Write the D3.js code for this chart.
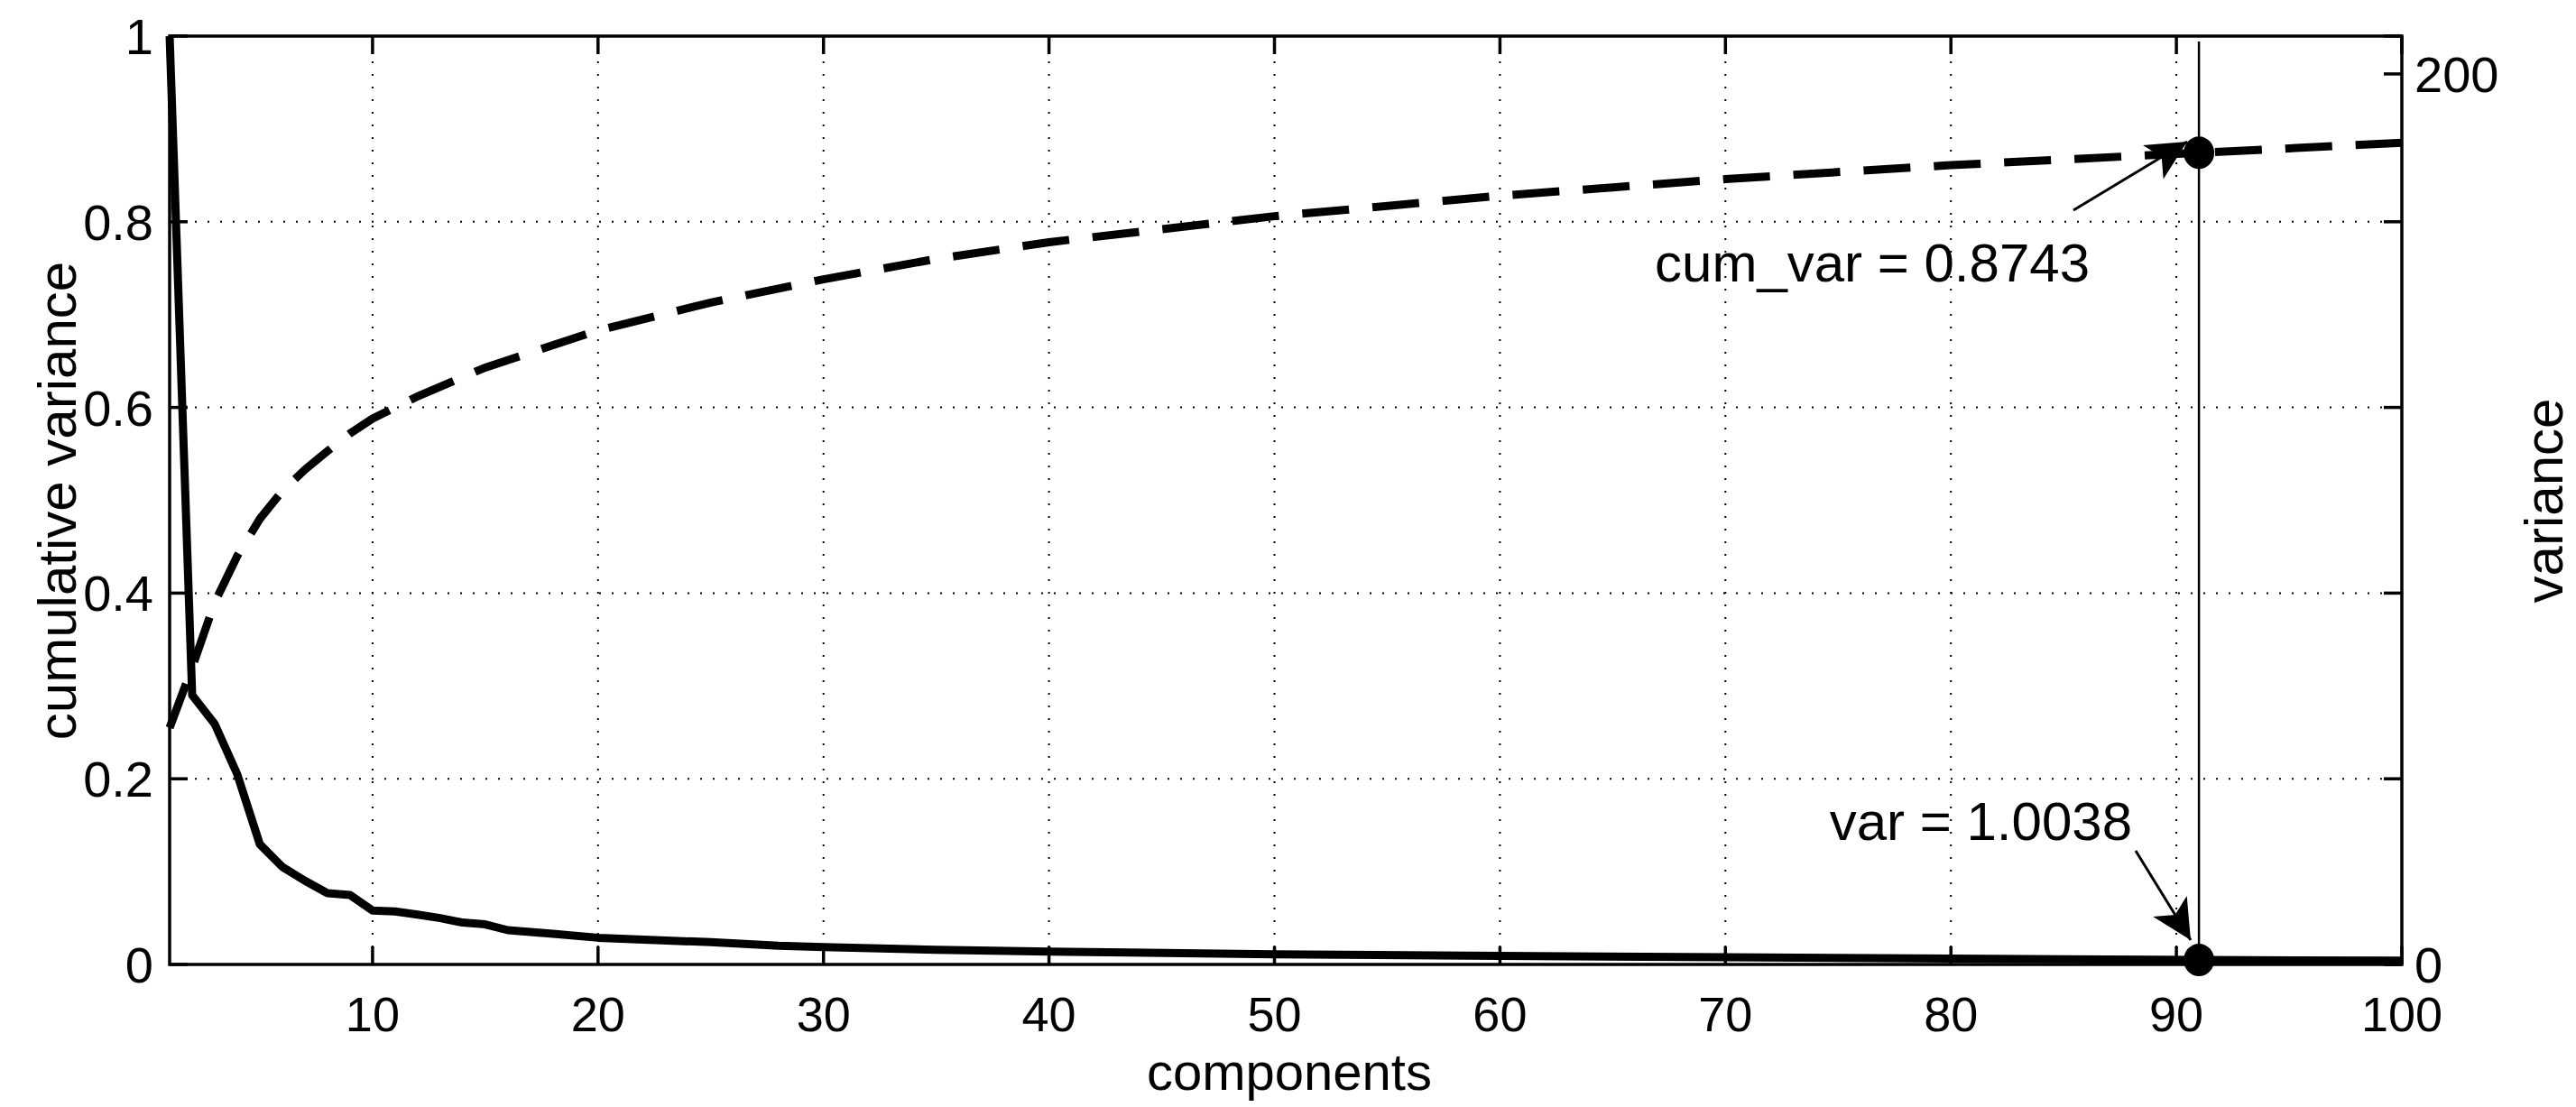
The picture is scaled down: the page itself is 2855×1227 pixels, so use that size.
<!DOCTYPE html>
<html>
<head>
<meta charset="utf-8">
<script src="https://cdn.jsdelivr.net/npm/d3@7"></script>
<style>
  body { margin: 0; background: #fff; }
  text { font-family: "Liberation Sans", Arial, sans-serif; fill: #000; }
</style>
</head>
<body>
<div id="chart"></div>
<script>
// PCA explained variance: cumulative (left axis) and per component (right axis)
const cumX = [1, 2, 3, 4, 5, 6, 7, 8, 9, 10, 12, 15, 20, 25, 30, 35, 40, 50, 60, 70, 80, 91, 100];
const cumY = [0.255, 0.32, 0.39, 0.44, 0.48, 0.51, 0.533, 0.553, 0.572, 0.588, 0.612, 0.643, 0.683, 0.713,
  0.738, 0.76, 0.778, 0.806, 0.828, 0.846, 0.861, 0.8743, 0.885];

const varX = [1, 2, 3, 4, 5, 6, 7, 8, 9, 10, 11, 12, 13, 14, 15, 16, 18, 20, 25, 28, 30, 35, 40, 50, 60, 70, 80, 91, 100];
const varY = [208.5, 60.5, 54, 42.7, 27, 21.9, 18.8, 16, 15.6, 12.1, 11.9, 11.2, 10.4, 9.4, 9, 7.7, 6.9, 6.0,
  5.0, 4.2, 3.9, 3.3, 2.9, 2.3, 1.9, 1.6, 1.3, 1.0038, 0.85];

const xTicks = [10, 20, 30, 40, 50, 60, 70, 80, 90, 100];
const yTicks = [0, 0.2, 0.4, 0.6, 0.8, 1];
const y2Ticks = [0, 200];

const markX = 91;
const markCum = 0.8743;
const markVar = 1.0038;

const W = 2855, H = 1227;
const L = 188, R = 2662, T = 40, B = 1069;

const svg = d3.select("#chart").append("svg")
  .attr("width", W).attr("height", H);

const x = d3.scaleLinear().domain([1, 100]).range([L, R]);
const y = d3.scaleLinear().domain([0, 1]).range([B, T]);
const y2 = d3.scaleLinear().domain([0, 208.5]).range([B, T]);

// grid
const grid = svg.append("g").attr("stroke", "#000").attr("stroke-width", 2)
  .attr("stroke-dasharray", "2,12");
xTicks.filter(d => d < 100).forEach(d => {
  grid.append("line").attr("x1", x(d)).attr("x2", x(d)).attr("y1", T).attr("y2", B);
});
yTicks.filter(d => d > 0 && d < 1).forEach(d => {
  grid.append("line").attr("x1", L).attr("x2", R).attr("y1", y(d)).attr("y2", y(d));
});

// ticks (inward, MATLAB style)
const tk = 20;
const ticks = svg.append("g").attr("stroke", "#000").attr("stroke-width", 3.5);
xTicks.forEach(d => {
  ticks.append("line").attr("x1", x(d)).attr("x2", x(d)).attr("y1", B).attr("y2", B - tk);
  ticks.append("line").attr("x1", x(d)).attr("x2", x(d)).attr("y1", T).attr("y2", T + tk);
});
yTicks.forEach(d => {
  ticks.append("line").attr("x1", L).attr("x2", L + tk).attr("y1", y(d)).attr("y2", y(d));
  ticks.append("line").attr("x1", R).attr("x2", R - tk).attr("y1", y(d)).attr("y2", y(d));
});
y2Ticks.forEach(d => {
  ticks.append("line").attr("x1", R).attr("x2", R - tk).attr("y1", y2(d)).attr("y2", y2(d));
});

// tick labels
svg.append("g").selectAll("text").data(xTicks).enter().append("text")
  .attr("x", d => x(d)).attr("y", 1143).attr("text-anchor", "middle")
  .style("font-size", "54px").text(d => d);
svg.append("g").selectAll("text").data(yTicks).enter().append("text")
  .attr("x", 170).attr("y", d => y(d) + 20).attr("text-anchor", "end")
  .style("font-size", "56px").text(d => d);
svg.append("g").selectAll("text").data(y2Ticks).enter().append("text")
  .attr("x", 2676).attr("y", d => y2(d) + 20).attr("text-anchor", "start")
  .style("font-size", "56px").text(d => d);

// axis labels
svg.append("text").attr("x", 1429).attr("y", 1208).attr("text-anchor", "middle")
  .style("font-size", "58px").text("components");
svg.append("text").attr("transform", `translate(84,555) rotate(-90)`).attr("text-anchor", "middle")
  .style("font-size", "60px").text("cumulative variance");
svg.append("text").attr("transform", `translate(2840,555) rotate(-90)`).attr("text-anchor", "middle")
  .style("font-size", "60px").text("variance");

// lines
svg.append("path").datum(cumX.map((d, i) => [d, cumY[i]]))
  .attr("fill", "none").attr("stroke", "#000").attr("stroke-width", 9)
  .attr("stroke-dasharray", "52,26")
  .attr("d", d3.line().x(d => x(d[0])).y(d => y(d[1])));

svg.append("path").datum(varX.map((d, i) => [d, varY[i]]))
  .attr("fill", "none").attr("stroke", "#000").attr("stroke-width", 9)
  .attr("stroke-linejoin", "round")
  .attr("d", d3.line().x(d => x(d[0])).y(d => y2(d[1])));

// axis box
svg.append("rect").attr("x", L).attr("y", T).attr("width", R - L).attr("height", B - T)
  .attr("fill", "none").attr("stroke", "#000").attr("stroke-width", 3.5);

// marker line and dots
svg.append("line").attr("x1", x(markX)).attr("x2", x(markX)).attr("y1", T + 6).attr("y2", B)
  .attr("stroke", "#000").attr("stroke-width", 2.5);
svg.append("ellipse").attr("cx", x(markX)).attr("cy", y(markCum)).attr("rx", 17).attr("ry", 18).attr("fill", "#000");
svg.append("ellipse").attr("cx", x(markX)).attr("cy", y2(markVar)).attr("rx", 17).attr("ry", 18).attr("fill", "#000");

// annotations with arrows
svg.append("defs").append("marker").attr("id", "arr")
  .attr("viewBox", "0 0 10 10").attr("refX", 10).attr("refY", 5)
  .attr("markerWidth", 60).attr("markerHeight", 44).attr("markerUnits", "userSpaceOnUse")
  .attr("orient", "auto")
  .append("path").attr("d", "M0,0 L10,5 L0,10 L2.5,5 Z").attr("fill", "#000");

svg.append("line").attr("x1", 2298).attr("y1", 233).attr("x2", 2424).attr("y2", 157)
  .attr("stroke", "#000").attr("stroke-width", 3).attr("marker-end", "url(#arr)");
svg.append("line").attr("x1", 2367).attr("y1", 943).attr("x2", 2428).attr("y2", 1042)
  .attr("stroke", "#000").attr("stroke-width", 3).attr("marker-end", "url(#arr)");

svg.append("text").attr("x", 2316).attr("y", 312).attr("text-anchor", "end")
  .style("font-size", "60px").text("cum_var = " + markCum);
svg.append("text").attr("x", 2363).attr("y", 931).attr("text-anchor", "end")
  .style("font-size", "60px").text("var = " + markVar);
</script>
</body>
</html>
